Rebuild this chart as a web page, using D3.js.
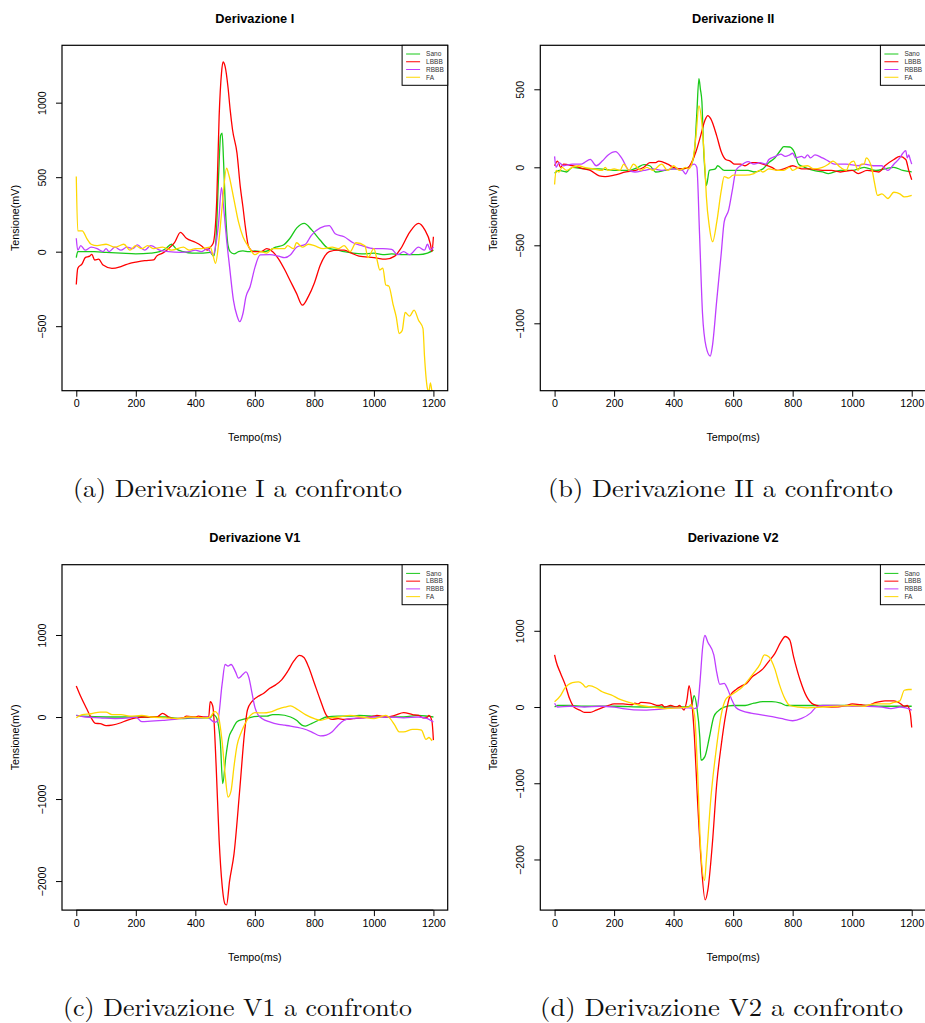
<!DOCTYPE html>
<html>
<head>
<meta charset="utf-8">
<script src="https://cdn.jsdelivr.net/npm/d3@7"></script>
<style>
  body { margin: 0; background: #fff; }
  svg { display: block; font-family: "Liberation Sans", Arial, sans-serif; }
</style>
</head>
<body>
<svg id="svg_ecg" width="925" height="1023"></svg>
<script>
// ECG leads compared: healthy (Sano), LBBB, RBBB, atrial fibrillation (FA)
// values are [ms, mV]

/* Derivazione I */
const sanoI = [[0,-40],[5,0],[30,0],[60,0],[100,-5],[150,-10],[200,-15],[250,-10],[280,0],[300,20],[320,50],[335,20],[360,0],[390,-10],[420,-10],[450,-5],[462,-30],[470,100],[478,500],[485,780],[490,796],[495,600],[502,250],[510,40],[517,0],[530,-15],[545,0],[560,5],[580,0],[600,5],[630,0],[650,10],[670,30],[696,45],[718,90],[741,160],[766,190],[791,146],[819,78],[847,22],[870,15],[900,0],[930,-10],[960,-15],[1000,-10],[1030,-20],[1060,-15],[1100,-20],[1150,-20],[1180,-10],[1200,10]];
const lbbbI = [[0,-220],[5,-112],[20,-80],[30,-40],[45,-30],[52,-18],[62,-56],[75,-50],[90,-90],[120,-112],[150,-100],[180,-78],[200,-70],[230,-60],[260,-55],[270,-30],[290,-10],[310,20],[330,60],[350,130],[370,90],[400,63],[420,40],[440,10],[450,30],[460,56],[472,347],[480,908],[488,1200],[493,1273],[500,1244],[510,1100],[517,953],[525,818],[540,661],[551,437],[560,300],[568,168],[579,34],[596,0],[620,0],[640,20],[660,0],[680,-50],[700,-120],[720,-200],[740,-280],[760,-359],[780,-300],[800,-210],[820,-90],[835,-30],[850,0],[880,10],[900,10],[925,-10],[950,-30],[1000,-40],[1040,-50],[1070,-30],[1090,20],[1120,130],[1150,190],[1170,150],[1190,50],[1195,0],[1200,100]];
const rbbbI = [[0,90],[5,10],[15,40],[30,10],[50,30],[70,20],[90,0],[100,20],[110,0],[130,30],[150,10],[170,30],[190,20],[205,45],[230,10],[250,40],[280,10],[310,0],[350,-5],[380,0],[400,10],[420,0],[440,20],[460,-20],[470,60],[478,190],[488,430],[495,300],[505,80],[515,-100],[528,-325],[540,-430],[549,-470],[560,-415],[570,-303],[584,-235],[601,-100],[618,-22],[650,-20],[680,-30],[700,-40],[720,-20],[740,30],[770,50],[790,110],[820,160],[850,175],[870,120],[900,100],[930,60],[960,40],[1000,20],[1030,20],[1060,15],[1080,-20],[1100,0],[1120,-20],[1150,30],[1170,10],[1180,50],[1190,10],[1200,30]];
const faI = [[0,504],[5,140],[20,140],[35,90],[50,50],[70,40],[100,50],[130,30],[160,50],[180,10],[200,40],[220,20],[240,40],[260,20],[290,30],[320,10],[360,30],[380,10],[400,20],[420,20],[450,30],[460,-30],[468,-78],[478,50],[490,300],[505,560],[512,520],[530,348],[545,200],[560,100],[580,30],[600,-20],[620,0],[640,-10],[660,20],[700,20],[710,40],[730,20],[740,60],[760,30],[780,50],[800,40],[830,20],[860,30],[880,20],[900,40],[920,0],[940,60],[970,40],[980,-40],[1000,20],[1010,-50],[1020,-123],[1030,-110],[1040,-224],[1050,-230],[1065,-359],[1075,-437],[1085,-549],[1095,-530],[1105,-408],[1120,-433],[1135,-392],[1150,-460],[1165,-516],[1170,-700],[1180,-919],[1185,-940],[1190,-880],[1195,-940]];

/* Derivazione II */
const sanoII = [[0,-38],[15,-20],[40,-30],[60,0],[100,-10],[150,-10],[200,-20],[250,-20],[280,0],[300,17],[320,10],[340,-30],[370,-20],[400,-10],[430,-10],[450,0],[460,20],[470,100],[478,350],[485,568],[490,500],[495,420],[500,150],[505,-20],[510,-117],[520,-20],[540,-10],[548,10],[570,-20],[600,-20],[650,-20],[670,-30],[700,-10],[720,30],[740,60],[760,111],[770,132],[790,130],[805,100],[820,20],[840,0],[870,-20],[900,-30],[920,-40],[960,-20],[1000,-20],[1040,0],[1080,-20],[1110,-10],[1140,0],[1170,-20],[1200,-30]];
const lbbbII = [[0,10],[10,40],[20,0],[30,20],[60,10],[100,-10],[120,-20],[150,-55],[170,-60],[200,-50],[240,-30],[270,-20],[300,0],[320,30],[340,30],[350,40],[380,20],[400,0],[430,-10],[450,0],[460,30],[475,100],[490,197],[505,300],[515,331],[525,310],[545,200],[560,100],[575,50],[590,40],[605,20],[625,20],[640,10],[660,30],[680,30],[700,20],[730,0],[750,-20],[770,-10],[800,10],[830,-10],[860,-10],[900,-20],[930,-20],[960,-30],[1000,-20],[1020,-40],[1050,-20],[1090,-30],[1110,10],[1140,50],[1160,70],[1180,50],[1190,-20],[1200,-80]];
const rbbbII = [[0,70],[5,0],[15,30],[30,10],[60,20],[90,20],[100,30],[120,51],[140,10],[160,40],[180,79],[205,100],[225,60],[250,-20],[270,-30],[300,-20],[330,-10],[360,-20],[400,-10],[430,-20],[440,-43],[450,-10],[470,20],[478,0],[487,-423],[497,-936],[509,-1150],[523,-1210],[530,-1150],[545,-850],[560,-551],[570,-348],[585,-273],[597,-150],[610,-17],[625,10],[650,36],[670,20],[690,30],[710,20],[720,50],[740,68],[760,85],[775,70],[790,80],[800,90],[810,60],[830,70],[840,60],[850,80],[860,60],[875,80],[900,60],[920,40],[940,20],[980,20],[1020,10],[1040,20],[1070,10],[1100,10],[1120,-20],[1140,20],[1160,60],[1170,90],[1180,107],[1185,60],[1190,80],[1195,50],[1200,20]];
const faII = [[0,-110],[5,-20],[15,-30],[25,0],[40,-20],[60,0],[80,10],[100,0],[130,-10],[160,-20],[170,0],[180,-20],[200,-10],[220,-20],[232,20],[250,-20],[265,20],[290,-20],[310,0],[330,-20],[360,20],[380,-20],[400,10],[420,-20],[440,0],[450,-10],[465,50],[475,200],[485,393],[495,280],[505,0],[510,-188],[520,-380],[531,-477],[545,-350],[560,-150],[570,-60],[585,-70],[600,-50],[640,-50],[670,-40],[690,-20],[700,-30],[720,-10],[750,-20],[770,-20],[790,0],[800,-20],[820,0],[850,10],[870,-10],[900,0],[920,20],[935,40],[960,0],[980,-20],[990,20],[1005,40],[1020,-20],[1030,20],[1040,20],[1047,60],[1065,0],[1075,-100],[1085,-180],[1100,-170],[1120,-200],[1140,-160],[1160,-170],[1175,-190],[1200,-180]];

/* Derivazione V1 */
const sanoV1 = [[0,20],[20,10],[100,0],[200,0],[300,0],[350,-20],[400,-10],[450,-10],[460,30],[470,0],[484,-302],[492,-812],[502,-500],[512,-261],[525,-150],[540,-57],[560,-30],[590,0],[620,10],[640,10],[660,30],[680,30],[720,0],[740,-40],[758,-98],[770,-110],[790,-80],[820,-30],[840,0],[880,10],[920,10],[950,20],[1000,10],[1050,0],[1100,0],[1150,20],[1180,10],[1200,0]];
const lbbbV1 = [[0,379],[15,250],[35,100],[50,-10],[65,-78],[80,-80],[100,-106],[120,-100],[150,-70],[170,-40],[200,-10],[230,0],[270,0],[290,45],[310,0],[330,-20],[360,-10],[370,10],[400,0],[410,10],[430,0],[445,0],[450,188],[458,140],[460,100],[470,-600],[480,-1500],[490,-2050],[500,-2281],[505,-2290],[515,-2000],[530,-1669],[550,-853],[565,-200],[575,86],[590,188],[610,249],[630,290],[650,351],[670,392],[690,453],[710,555],[730,677],[750,751],[765,726],[780,616],[800,412],[820,208],[840,24],[860,-28],[880,-20],[900,-30],[930,-20],[960,-10],[1000,10],[1010,20],[1040,0],[1070,20],[1100,53],[1130,30],[1150,20],[1165,-10],[1180,0],[1185,20],[1195,-50],[1200,-282]];
const rbbbV1 = [[0,20],[30,0],[80,-10],[130,-20],[180,-10],[200,0],[220,-57],[250,-50],[290,-40],[330,-30],[370,-10],[420,-10],[440,0],[465,-65],[475,-50],[490,400],[500,640],[510,620],[520,640],[535,550],[545,473],[560,520],[570,550],[580,480],[590,300],[600,120],[610,30],[625,-20],[650,-60],[680,-90],[700,-100],[720,-110],[760,-140],[790,-180],[820,-230],[840,-220],[860,-180],[880,-100],[900,-40],[920,-20],[960,-10],[1000,0],[1050,0],[1100,-10],[1150,0],[1180,-20],[1200,-60]];
const faV1 = [[0,-10],[20,30],[50,40],[80,60],[100,60],[120,30],[150,30],[180,10],[220,20],[250,0],[300,-10],[340,-20],[380,0],[430,-10],[450,0],[465,70],[475,40],[490,-300],[500,-700],[510,-975],[520,-900],[530,-600],[540,-350],[555,-180],[570,-60],[585,20],[600,53],[630,50],[650,60],[680,100],[700,120],[720,135],[740,100],[770,30],[800,-20],[820,-40],[850,-10],[880,0],[920,20],[960,0],[1000,-20],[1020,0],[1040,20],[1055,-20],[1070,-100],[1085,-180],[1100,-180],[1130,-150],[1145,-150],[1160,-160],[1175,-273],[1185,-250],[1195,-290]];

/* Derivazione V2 */
const sanoV2 = [[0,0],[10,20],[50,20],[100,10],[200,10],[300,0],[400,0],[440,0],[460,20],[469,149],[478,0],[488,-400],[492,-697],[505,-650],[520,-400],[535,-127],[550,-50],[570,0],[600,20],[640,20],[670,50],[700,70],[730,70],[760,50],[780,20],[850,20],[950,20],[1050,20],[1100,10],[1200,10]];
const lbbbV2 = [[0,684],[5,600],[20,443],[35,300],[50,114],[65,0],[85,-40],[100,-70],[120,-70],[140,-40],[165,0],[180,20],[200,40],[230,40],[260,30],[270,50],[280,40],[290,60],[320,50],[350,20],[360,30],[370,0],[390,20],[410,0],[420,20],[435,-39],[445,100],[452,281],[460,100],[470,-400],[480,-1200],[492,-2000],[506,-2531],[515,-2400],[530,-1800],[545,-1000],[560,-500],[575,-100],[590,150],[610,230],[630,280],[645,310],[665,400],[680,440],[700,500],[720,600],[740,700],[760,850],[775,925],[790,880],[803,662],[825,355],[847,136],[870,35],[900,10],[930,0],[980,20],[1000,40],[1030,30],[1050,20],[1080,60],[1110,80],[1140,80],[1160,50],[1175,10],[1185,20],[1195,-80],[1200,-268]];
const rbbbV2 = [[0,50],[10,0],[50,10],[100,0],[150,10],[200,0],[230,-20],[300,-40],[350,-30],[400,-10],[450,-10],[470,-20],[480,0],[488,300],[498,800],[505,938],[515,850],[535,684],[545,450],[555,298],[570,310],[580,250],[595,100],[610,-10],[630,-50],[660,-80],[690,-100],[720,-120],[760,-150],[800,-180],[830,-150],[860,-80],[880,0],[900,20],[950,20],[1000,10],[1050,10],[1100,0],[1130,-20],[1160,0],[1180,-10],[1200,-40]];
const faV2 = [[0,70],[20,150],[35,250],[60,320],[80,329],[95,300],[105,260],[115,280],[140,250],[160,200],[190,160],[220,100],[250,60],[290,20],[330,0],[370,-20],[420,-10],[450,0],[458,30],[470,-100],[480,-800],[490,-1800],[504,-2276],[510,-2000],[525,-1200],[545,-500],[560,-100],[575,100],[590,150],[610,200],[630,260],[650,350],[670,450],[690,560],[705,684],[720,660],[740,500],[755,300],[775,100],[790,20],[820,0],[850,-10],[900,0],[950,10],[1000,20],[1040,10],[1060,30],[1080,40],[1120,40],[1140,60],[1160,80],[1175,220],[1190,230],[1200,230]];

/* Labels and ticks */
const leadTitles = ['Derivazione I', 'Derivazione II', 'Derivazione V1', 'Derivazione V2'];
const captions = ['(a) Derivazione I a confronto', '(b) Derivazione II a confronto',
                  '(c) Derivazione V1 a confronto', '(d) Derivazione V2 a confronto'];
const seriesNames = ['Sano', 'LBBB', 'RBBB', 'FA'];
const xTicks = [0, 200, 400, 600, 800, 1000, 1200];
const xRange = [-48, 1248];
const yTicksI = [-500, 0, 500, 1000];
const yTicksII = [-1000, -500, 0, 500];
const yTicksV1 = [-2000, -1000, 0, 1000];
const yTicksV2 = [-2000, -1000, 0, 1000];
const yRangeI = [-933, 1385];
const yRangeII = [-1432, 782];
const yRangeV1 = [-2354, 1857];
const yRangeV2 = [-2664, 1867];

const seriesColors = ['#19c919', '#ff0000', '#bf3eff', '#ffd700'];

class EcgPanel {

    constructor(svg, idx, series, yTicks, yRange, pos) {
        this.svg = svg;
        this.idx = idx;
        this.series = series;
        this.yTicks = yTicks;
        this.left = pos.left;
        this.top = pos.top;
        this.width = 385.7;
        this.height = 345.4;

        this.xScale = d3.scaleLinear()
                        .domain(xRange)
                        .range([this.left, this.left + this.width]);

        this.yScale = d3.scaleLinear()
                        .domain(yRange)
                        .range([this.top + this.height, this.top]);
    }

    draw() {
        this.drawLines();
        this.drawAxes();
        this.drawLegend();
        this.drawTexts();
    }

    drawLines() {
        let clipId = 'clip' + this.idx;
        this.svg.append('clipPath')
           .attr('id', clipId)
           .append('rect')
           .attr('x', this.left)
           .attr('y', this.top)
           .attr('width', this.width)
           .attr('height', this.height);

        let line = d3.line()
                     .x(d => this.xScale(d[0]))
                     .y(d => this.yScale(d[1]))
                     .curve(d3.curveMonotoneX);

        let g = this.svg.append('g').attr('clip-path', `url(#${clipId})`);

        this.series.forEach((s, i) => {
            g.append('path')
             .datum(s)
             .attr('fill', 'none')
             .attr('stroke', seriesColors[i])
             .attr('stroke-width', 1.3)
             .attr('stroke-linejoin', 'round')
             .attr('d', line);
        });
    }

    drawAxes() {
        let bottom = this.top + this.height;

        // x axis
        let xAxis = d3.axisBottom(this.xScale)
                      .tickValues(xTicks)
                      .tickSize(6)
                      .tickPadding(3)
                      .tickFormat(d => `${d}`);

        let gx = this.svg.append('g')
           .attr('transform', `translate(0, ${bottom})`)
           .call(xAxis);
        gx.select('.domain')
          .attr('d', `M${this.xScale(xTicks[0])},0H${this.xScale(xTicks[xTicks.length - 1])}`);
        gx.selectAll('text').attr('font-size', 10.7).attr('fill', '#000')
          .attr('font-family', '"Liberation Sans", Arial, sans-serif');

        // y axis, labels turned like R's las=0
        let yAxis = d3.axisLeft(this.yScale)
                      .tickValues(this.yTicks)
                      .tickSize(6)
                      .tickFormat(d => d < 0 ? '\u2212' + Math.abs(d) : `${d}`);

        let gy = this.svg.append('g')
           .attr('transform', `translate(${this.left}, 0)`)
           .call(yAxis);
        gy.select('.domain').remove();
        gy.selectAll('text')
          .attr('font-size', 10.7)
          .attr('fill', '#000')
          .attr('font-family', '"Liberation Sans", Arial, sans-serif')
          .attr('text-anchor', 'middle')
          .attr('x', 0)
          .attr('dy', '0.35em')
          .attr('transform', 'translate(-20, 0) rotate(-90)');

        // frame
        this.svg.append('rect')
           .attr('x', this.left)
           .attr('y', this.top)
           .attr('width', this.width)
           .attr('height', this.height)
           .attr('fill', 'none')
           .attr('stroke', '#000')
           .attr('stroke-width', 1.2);
    }

    drawLegend() {
        let lx = this.left + this.width - 45.6;
        let ly = this.top;
        let g = this.svg.append('g');

        g.append('rect')
         .attr('x', lx).attr('y', ly)
         .attr('width', 45.6).attr('height', 40)
         .attr('fill', '#fff')
         .attr('stroke', '#000')
         .attr('stroke-width', 1);

        seriesNames.forEach((name, i) => {
            let y = ly + 8.7 + i * 7.75;
            g.append('line')
             .attr('x1', lx + 4).attr('x2', lx + 18)
             .attr('y1', y).attr('y2', y)
             .attr('stroke', seriesColors[i])
             .attr('stroke-width', 1);
            g.append('text')
             .attr('x', lx + 24).attr('y', y)
             .attr('dy', '0.35em')
             .attr('font-size', 6.5)
             .attr('fill', '#333')
             .text(name);
        });
    }

    drawTexts() {
        let cx = this.left + this.width / 2;
        let cy = this.top + this.height / 2;

        this.svg.append('text')
           .attr('x', cx).attr('y', this.top - 22.5)
           .attr('text-anchor', 'middle')
           .attr('font-size', 12.8)
           .attr('font-weight', 'bold')
           .text(leadTitles[this.idx]);

        this.svg.append('text')
           .attr('x', this.xScale(600)).attr('y', this.top + this.height + 50.5)
           .attr('text-anchor', 'middle')
           .attr('font-size', 10.7)
           .text('Tempo(ms)');

        this.svg.append('text')
           .attr('transform', `translate(${this.left - 47}, ${cy}) rotate(-90)`)
           .attr('text-anchor', 'middle')
           .attr('dy', '0.35em')
           .attr('font-size', 10.7)
           .text('Tensione(mV)');
    }
}

const svg = d3.select('#svg_ecg');

const panels = [
    { series: [sanoI, lbbbI, rbbbI, faI],     ticks: yTicksI,  range: yRangeI,  pos: { left: 62,    top: 45.3 } },
    { series: [sanoII, lbbbII, rbbbII, faII], ticks: yTicksII, range: yRangeII, pos: { left: 540.3, top: 45.3 } },
    { series: [sanoV1, lbbbV1, rbbbV1, faV1], ticks: yTicksV1, range: yRangeV1, pos: { left: 62,    top: 564.7 } },
    { series: [sanoV2, lbbbV2, rbbbV2, faV2], ticks: yTicksV2, range: yRangeV2, pos: { left: 540.3, top: 564.7 } }
];

panels.forEach((p, i) => {
    new EcgPanel(svg, i, p.series, p.ticks, p.range, p.pos).draw();
});

// LaTeX-style sub captions
const captionCenters = [237.5, 720.5, 237.5, 721.5];
const captionWidths = [329, 345, 349, 363];
const captionBaselines = [497, 497, 1016, 1016];

captions.forEach((c, i) => {
    svg.append('text')
       .attr('x', captionCenters[i] - captionWidths[i] / 2)
       .attr('y', captionBaselines[i])
       .attr('font-family', '"Latin Modern Roman", "Liberation Serif", "DejaVu Serif", serif')
       .attr('font-size', 25)
       .attr('textLength', captionWidths[i])
       .attr('lengthAdjust', 'spacingAndGlyphs')
       .attr('fill', '#111')
       .text(c);
});
</script>
</body>
</html>
